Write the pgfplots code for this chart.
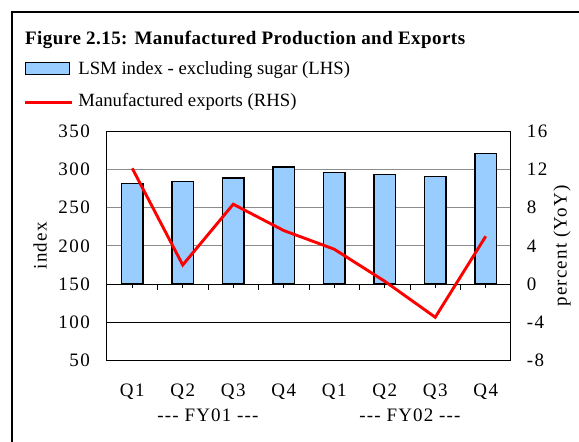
\documentclass[border=0pt]{standalone}
\usepackage{fontspec}
\setmainfont{Liberation Serif}
\newfontfamily\tickfont[LetterSpace=8]{Liberation Serif}
\newfontfamily\labfont[LetterSpace=6]{Liberation Serif}
\newfontfamily\titlefont[LetterSpace=2.4]{Liberation Serif}
\usepackage{pgfplots}
\pgfplotsset{compat=1.18}
\definecolor{barblue}{HTML}{99CCFF}
\newcommand\ft{\tickfont\fontsize{19pt}{22pt}\selectfont}
\newcommand\fl{\labfont\fontsize{19pt}{22pt}\selectfont}
\newcommand\fg{\fontsize{18.7pt}{22pt}\selectfont}
\begin{document}
\begin{tikzpicture}[x=1pt,y=1pt]
\path[use as bounding box] (0,0) rectangle (579,-442);
\fill[white] (0,0) rectangle (579,-442);
\draw[line width=2pt] (11.5,-460) -- (11.5,-11.8) -- (600,-11.8);
\node[anchor=base west, inner sep=0pt, font=\titlefont\fontsize{19pt}{22pt}\selectfont\bfseries] at (25,-44) {Figure 2.15: Manufactured Production and Exports};
\begin{axis}[
  at={(107pt,-360.7pt)}, anchor=south west, scale only axis,
  width=404pt, height=229.7pt,
  clip mode=individual,
  xmin=-0.5, xmax=7.5, ymin=50, ymax=350,
  y coord trafo/.code={\pgfmathparse{#1-150}},
  y coord inv trafo/.code={\pgfmathparse{#1+150}},
  ytick={50,100,...,350},
  xtick={0,...,7}, xticklabels={Q1,Q2,Q3,Q4,Q1,Q2,Q3,Q4},
  major tick length=0pt,
  /pgf/number format/assume math mode=true,
  tick label style={font=\ft, inner sep=0pt},
  yticklabel style={anchor=east, xshift=-17pt},
  xticklabel style={anchor=center, yshift=-31pt},
  ymajorgrids, major grid style={gray!90, line width=0.8pt},
  extra y ticks={100,150}, extra y tick labels={},
  extra y tick style={major grid style={black, line width=0.8pt}},
  axis line style={line width=1pt},
  ylabel={index}, ylabel style={font=\fl, at={(axis description cs:-0.1658,0.5)}, anchor=center, rotate=0},
  legend style={at={(axis description cs:-0.2079,1.3047)}, anchor=north west, draw=none, fill=none, inner sep=0pt,
    nodes={inner sep=0pt, font=\fg, anchor=base west}, /tikz/column sep=5pt, /tikz/row sep=18pt},
  legend cell align=left,
]
\addplot[ybar, bar width=21.3pt, bar shift=0pt, fill=barblue, draw=black, line width=1.3pt,
  legend image code/.code={\draw[fill=barblue, draw=black, line width=1.3pt] (0pt,0pt) rectangle (44pt,11.7pt);}]
  coordinates {(0,281) (1,284) (2,288.6) (3,303) (4,296) (5,293.5) (6,291) (7,320.4)};
\addlegendentry{LSM index - excluding sugar (LHS)}
\addlegendimage{legend image code/.code={\draw[color=red, line width=3.2pt] (-1pt,4pt) -- (46pt,4pt);}}
\addlegendentry{Manufactured exports (RHS)}
\pgfplotsinvokeforeach{0.5,1.5,2.5,3.5,4.5,5.5,6.5}{\draw[line width=0.8pt] (axis cs:#1,150) -- ++(0pt,-5.5pt);}
\pgfplotsinvokeforeach{0,1,2,3,4,5,6,7}{\draw[line width=0.8pt] (axis cs:#1,150) -- ++(0pt,-3.5pt);}
\node[font=\fl, inner sep=0pt, anchor=center] at (axis cs:1.5,50) [yshift=-55pt] {-{}-{}- FY01 -{}-{}-};
\node[font=\fl, inner sep=0pt, anchor=center] at (axis cs:5.5,50) [yshift=-55pt] {-{}-{}- FY02 -{}-{}-};
\end{axis}
\begin{axis}[
  at={(107pt,-360.7pt)}, anchor=south west, scale only axis,
  width=404pt, height=229.7pt,
  xmin=-0.5, xmax=7.5, ymin=-8, ymax=16,
  ytick={-8,-4,...,16},
  axis x line=none, axis y line*=right,
  major tick length=0pt,
  /pgf/number format/assume math mode=true,
  tick label style={font=\ft, inner sep=0pt},
  yticklabel style={anchor=west, xshift=15.7pt},
  axis line style={line width=1pt},
  ylabel={percent (YoY)}, ylabel style={font=\fl, at={(axis description cs:1.1262,0.5)}, anchor=center, rotate=0},
]
\addplot[red, line width=2.9pt, mark=none] coordinates {(0,12.1) (1,2.0) (2,8.35) (3,5.6) (4,3.65) (5,0.3) (6,-3.46) (7,5.0)};
\end{axis}
\end{tikzpicture}
\end{document}
